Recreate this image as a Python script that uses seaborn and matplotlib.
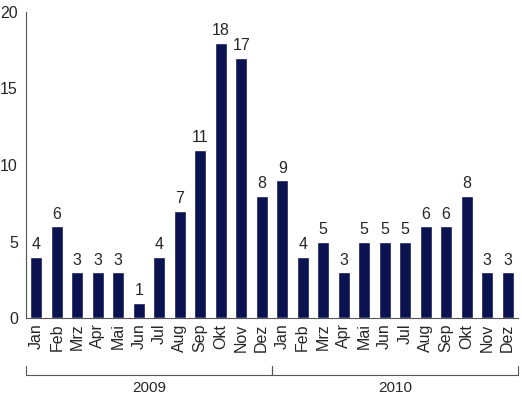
import pandas as pd
import matplotlib
matplotlib.use('Agg')
import matplotlib.pyplot as plt
import seaborn as sns

# monthly counts, two years
months = ['Jan', 'Feb', 'Mrz', 'Apr', 'Mai', 'Jun', 'Jul', 'Aug', 'Sep', 'Okt', 'Nov', 'Dez']
years = ['2009', '2010']
values_2009 = [4, 6, 3, 3, 3, 1, 4, 7, 11, 18, 17, 8]
values_2010 = [9, 4, 5, 3, 5, 5, 5, 6, 6, 8, 3, 3]

df = pd.DataFrame({
    'Monat': months * 2,
    'Jahr': [years[0]] * 12 + [years[1]] * 12,
    'Anzahl': values_2009 + values_2010,
})
df['pos'] = [f'{y}-{m}' for y, m in zip(df['Jahr'], df['Monat'])]

sns.set_style('white')
plt.rcParams['font.family'] = ['Liberation Sans', 'DejaVu Sans']

fig = plt.figure(figsize=(5.22, 4.0), dpi=100)
ax = fig.add_axes([0.05, 0.205, 0.942, 0.765])

sns.barplot(data=df, x='pos', y='Anzahl', color='#0b1250', width=0.58,
            saturation=1, ax=ax)

for i, v in enumerate(df['Anzahl']):
    ax.text(i, v + 0.3, str(v), ha='center', va='bottom', fontsize=11.5)

ax.set_xlim(-0.5, len(df) - 0.5)
ax.set_ylim(0, 20)
ax.set_yticks([0, 5, 10, 15, 20])
ax.set_xticks(range(len(df)))
ax.set_xticklabels(df['Monat'], rotation=90, fontsize=11.5)
ax.set_xticks([i - 0.5 for i in range(len(df) + 1)], minor=True)
ax.tick_params(axis='x', which='major', length=0, pad=4)
ax.tick_params(axis='x', which='minor', length=4, color='#555555', width=0.8)
ax.tick_params(axis='y', length=4, color='#555555', width=0.8, labelsize=11.5, pad=2)
ax.set_xlabel('')
ax.set_ylabel('')

for side in ['top', 'right']:
    ax.spines[side].set_visible(False)
for side in ['left', 'bottom']:
    ax.spines[side].set_color('#555555')
    ax.spines[side].set_linewidth(0.8)

# year brackets below the month labels
yb = -0.186
trans = ax.get_xaxis_transform()
for k, yr in enumerate(years):
    x0 = k * 12 - 0.5
    x1 = x0 + 12
    ax.plot([x0, x0, x1, x1], [yb + 0.03, yb, yb, yb + 0.03], color='#555555',
            lw=0.8, transform=trans, clip_on=False)
    ax.text((x0 + x1) / 2, yb - 0.02, yr, ha='center', va='top', fontsize=11,
            transform=trans)

fig.savefig('out.png', dpi=100)
